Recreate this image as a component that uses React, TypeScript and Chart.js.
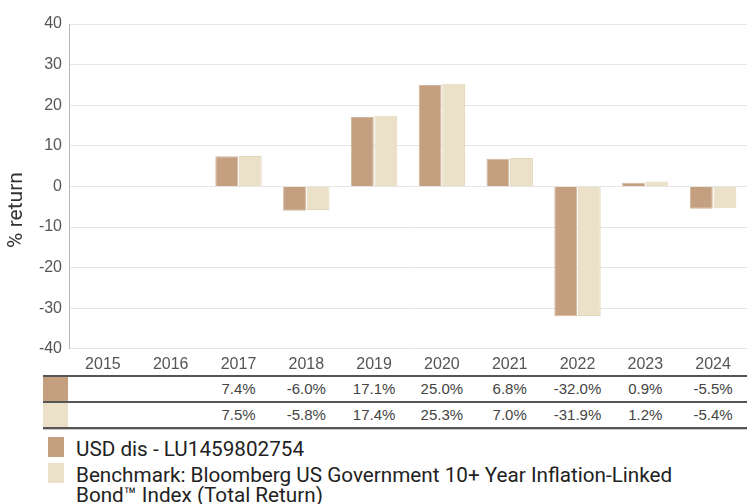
import { useEffect, useRef } from 'react';
import { Chart, registerables } from 'chart.js';

Chart.register(...registerables);

const years = ['2015', '2016', '2017', '2018', '2019', '2020', '2021', '2022', '2023', '2024'];
const fundReturns = [null, null, 7.4, -6.0, 17.1, 25.0, 6.8, -32.0, 0.9, -5.5];
const benchReturns = [null, null, 7.5, -5.8, 17.4, 25.3, 7.0, -31.9, 1.2, -5.4];
const fundLabel = 'USD dis - LU1459802754';
const benchLabel = 'Benchmark: Bloomberg US Government 10+ Year Inflation-Linked Bond™ Index (Total Return)';

const FUND_COLOR = '#c49f80';
const BENCH_COLOR = '#ebe1c9';

const fmt = (v: number | null) => (v === null ? '' : v.toFixed(1) + '%');

// y title sits off-centre in the original, so draw it by hand
const yTitle = {
  id: 'yTitle',
  afterDraw(chart: Chart) {
    const ctx = chart.ctx;
    ctx.save();
    ctx.translate(17, 210);
    ctx.rotate(-Math.PI / 2);
    ctx.font = '21px Roboto';
    ctx.fillStyle = '#333';
    ctx.textAlign = 'center';
    ctx.textBaseline = 'middle';
    ctx.fillText('% return', 0, 0);
    ctx.restore();
  }
};

export default function App() {
  const canvasRef = useRef<HTMLCanvasElement>(null);
  const chartRef = useRef<Chart | null>(null);

  useEffect(() => {
    document.body.style.margin = '0';
    if (!canvasRef.current) return;
    if (chartRef.current) chartRef.current.destroy();
    const ctx = canvasRef.current.getContext('2d');
    if (!ctx) return;

    chartRef.current = new Chart(ctx, {
      type: 'bar',
      data: {
        labels: years,
        datasets: [
          {
            label: fundLabel,
            data: fundReturns,
            backgroundColor: FUND_COLOR,
            borderColor: '#d3b69d',
            borderWidth: 1
          },
          {
            label: benchLabel,
            data: benchReturns,
            backgroundColor: BENCH_COLOR,
            borderColor: '#e2d5b8',
            borderWidth: 1
          }
        ]
      },
      options: {
        responsive: false,
        animation: false,
        categoryPercentage: 0.695,
        barPercentage: 0.97,
        layout: { padding: { top: 24, right: 0, left: 0, bottom: 0 } },
        plugins: {
          legend: { display: false },
          tooltip: { enabled: false }
        },
        scales: {
          x: {
            grid: { display: false, drawTicks: false },
            border: { display: false },
            ticks: {
              color: '#555',
              padding: 6,
              font: { family: 'Liberation Sans', size: 16 }
            }
          },
          y: {
            min: -40,
            max: 40,
            afterFit: (s: any) => { s.width = 69; },
            grid: { color: '#e6e6e6', drawTicks: false },
            border: { display: true, color: '#b5b5b5' },
            ticks: {
              stepSize: 10,
              color: '#555',
              padding: 7,
              font: { family: 'Liberation Sans', size: 16 }
            }
          }
        }
      },
      plugins: [yTitle]
    });

    return () => {
      if (chartRef.current) {
        chartRef.current.destroy();
        chartRef.current = null;
      }
    };
  }, []);

  const row = (color: string, values: (number | null)[], last: boolean) => (
    <div style={{
      display: 'flex',
      height: 24,
      borderTop: '2px solid #555',
      borderBottom: last ? '2px solid #555' : 'none',
      boxShadow: last ? '0 1px 0 #c8c8c8' : 'none'
    }}>
      <div style={{ width: 25, background: color }} />
      <div style={{ width: 1 }} />
      {values.map((v, i) => (
        <div key={i} style={{ flex: 1, textAlign: 'center', lineHeight: '24px' }}>{fmt(v)}</div>
      ))}
    </div>
  );

  const legendItem = (color: string, text: string, top: number) => (
    <div style={{ position: 'absolute', left: 48, top, display: 'flex' }}>
      <div style={{ width: 16, height: 20, background: color, flex: 'none' }} />
      <div style={{ marginLeft: 12, width: 640, lineHeight: '20px', marginTop: 2 }}>{text}</div>
    </div>
  );

  return (
    <div style={{ position: 'relative', width: 747, height: 504, overflow: 'hidden', background: '#fff' }}>
      <canvas ref={canvasRef} width={747} height={380} style={{ position: 'absolute', left: 0, top: 0 }} />
      <div style={{
        position: 'absolute', left: 43, top: 375, width: 704,
        fontFamily: 'Liberation Sans', fontSize: 15, color: '#444', background: '#fff'
      }}>
        {row(FUND_COLOR, fundReturns, false)}
        {row(BENCH_COLOR, benchReturns, true)}
      </div>
      <div style={{ fontFamily: 'Roboto', fontSize: 20.7, color: '#222' }}>
        {legendItem(FUND_COLOR, fundLabel, 437)}
        {legendItem(BENCH_COLOR, benchLabel, 463)}
      </div>
    </div>
  );
}
